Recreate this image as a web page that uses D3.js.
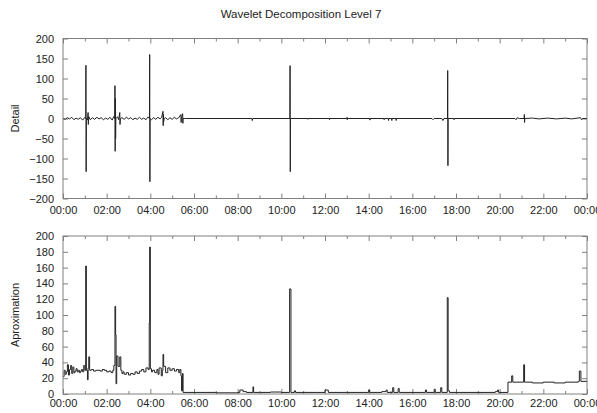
<!DOCTYPE html>
<html>
<head>
<meta charset="utf-8">
<script src="https://cdn.jsdelivr.net/npm/d3@7"></script>
<style>
	body { margin: 0; background: #fff; }
	text { font-family: "Liberation Sans", Arial, sans-serif; fill: #222; }
</style>
</head>
<body>
<div id="chart-area"></div>
<script>
const canvas = { width: 597, height: 413 }
const plotLeft = 63, plotRight = 587
const panels = [
	{ top: 38.5, bottom: 198.5, label: 'Detail', labelPad: 7.7 },
	{ top: 236, bottom: 394, label: 'Aproximation', labelPad: 5 }
]

// Tick labels
const hourTicks = [0, 2, 4, 6, 8, 10, 12, 14, 16, 18, 20, 22, 24]
const minorHours = [1, 3, 5, 7, 9, 11, 13, 15, 17, 19, 21, 23]
const detailTicks = [-200, -150, -100, -50, 0, 50, 100, 150, 200]
const approxTicks = [0, 20, 40, 60, 80, 100, 120, 140, 160, 180, 200]

// Detail coefficients [hour, value]
const detailSeries = [
	[0, 0], [0.1, -2], [0.2, 2], [0.3, -1], [0.4, 3], [0.5, -3], [0.6, 1], [0.7, -2], [0.8, 2], [0.9, -4], [1.0, 3],
	[1.04, 0], [1.05, 133], [1.06, -133], [1.07, 0],
	[1.12, -4], [1.15, 15], [1.16, -15], [1.18, 5], [1.25, -3], [1.35, 2], [1.45, -2], [1.55, 3], [1.65, -1], [1.75, 2],
	[1.85, -3], [1.95, 1], [2.05, -2], [2.15, 3], [2.25, -4], [2.33, 5],
	[2.37, 0], [2.38, 82], [2.39, -82], [2.40, 50], [2.41, -50], [2.42, 0],
	[2.5, 4], [2.55, -3], [2.6, 15], [2.61, -15], [2.63, 0], [2.7, 2], [2.8, -2], [2.9, 3], [3.0, -1], [3.1, 2],
	[3.2, -3], [3.3, 1], [3.4, -2], [3.5, 3], [3.6, -2], [3.7, 1], [3.8, -3], [3.9, 4],
	[3.96, 0], [3.97, 160], [3.98, -158], [3.99, 0],
	[4.05, -3], [4.15, 2], [4.25, -2], [4.35, 3], [4.45, -1], [4.52, 3],
	[4.58, 18], [4.59, -18], [4.6, 10], [4.61, -8], [4.63, 0],
	[4.7, 2], [4.8, -3], [4.9, 2], [5.0, -2], [5.1, 3], [5.2, -1], [5.3, 2],
	[5.40, 10], [5.41, -10], [5.42, 0], [5.48, 12], [5.49, -12], [5.5, 0],
	[5.6, 0], [8.65, 0], [8.67, -5], [8.69, 0],
	[10.39, 0], [10.40, 132], [10.41, -133], [10.42, 0],
	[11.2, 0], [11.21, -2], [11.22, 0], [12.2, 0], [12.21, -3], [12.22, 0],
	[13.0, 0], [13.01, 3], [13.02, -3], [13.03, 0],
	[14.05, 0], [14.06, -4], [14.07, 0], [14.7, 0], [14.71, -3], [14.72, 0],
	[14.9, 0], [14.91, -5], [14.92, 0], [15.05, 0], [15.06, -5], [15.07, 0], [15.25, 0], [15.26, -5], [15.27, 0],
	[16.9, 0], [16.95, -3], [17.0, 0], [17.35, 0], [17.4, -5], [17.45, 0],
	[17.61, 0], [17.62, 120], [17.63, -118], [17.64, 0],
	[17.9, 0], [17.91, -3], [17.92, 0],
	[20.7, 0], [20.75, -3], [20.8, 2], [20.9, 0],
	[21.12, 0], [21.13, 10], [21.14, -10], [21.15, 0],
	[21.5, 1], [21.8, -1], [22.2, 1], [22.6, -1], [23.0, 1], [23.3, -1], [23.7, 2], [23.75, -3], [23.8, 0], [24, 0]
]

// Approximation coefficients [hour, value]
const approxSeries = [
	[0, 22], [0.05, 30], [0.1, 25], [0.15, 28], [0.2, 37], [0.25, 24], [0.3, 31], [0.35, 36], [0.4, 26], [0.45, 34],
	[0.5, 27], [0.55, 29], [0.6, 32], [0.65, 28], [0.7, 30], [0.75, 27], [0.8, 29], [0.85, 31], [0.9, 28], [0.95, 36], [1.0, 30],
	[1.04, 162], [1.07, 30], [1.12, 18], [1.15, 33], [1.18, 47], [1.22, 30], [1.3, 31], [1.4, 29], [1.5, 30], [1.6, 30],
	[1.7, 29], [1.8, 31], [1.9, 30], [2.0, 28], [2.1, 29], [2.2, 27], [2.28, 30], [2.33, 36],
	[2.38, 111], [2.41, 75], [2.43, 13], [2.46, 48], [2.52, 35], [2.6, 47], [2.65, 30], [2.7, 26], [2.75, 28], [2.8, 25],
	[2.9, 27], [3.0, 24], [3.1, 26], [3.2, 25], [3.3, 28], [3.4, 26], [3.5, 29], [3.6, 31], [3.7, 28], [3.8, 33], [3.9, 31],
	[3.95, 90], [3.97, 186], [4.0, 32], [4.05, 28], [4.1, 30], [4.2, 27], [4.3, 31], [4.35, 25], [4.4, 33], [4.5, 23], [4.55, 30],
	[4.58, 50], [4.61, 35], [4.7, 27], [4.8, 33], [4.9, 30], [5.0, 32], [5.1, 29], [5.2, 31], [5.3, 27], [5.35, 31], [5.4, 23],
	[5.43, 4], [5.47, 26], [5.5, 2],
	[6.0, 2], [7.0, 1.5], [8.0, 2], [8.1, 5], [8.25, 3], [8.4, 2], [8.7, 9], [8.73, 2], [9.0, 2], [9.5, 2.5], [10.0, 2],
	[10.38, 133], [10.44, 2], [10.6, 4], [10.65, 2], [12.0, 5], [12.15, 2], [13.0, 2], [14.0, 5], [14.05, 2],
	[14.6, 3], [14.8, 5], [14.85, 2], [15.1, 8], [15.15, 2], [15.35, 7], [15.4, 2], [16.6, 5], [16.65, 2],
	[17.0, 6], [17.05, 2], [17.3, 8], [17.35, 2],
	[17.6, 122], [17.64, 4], [17.7, 2], [19.8, 3], [19.9, 5], [19.95, 2],
	[20.38, 15], [20.55, 23], [20.6, 15], [21.1, 37], [21.14, 15], [21.5, 14], [22, 15], [22.5, 14], [23, 15],
	[23.6, 16], [23.65, 29], [23.72, 16], [24, 15]
]

let svg = d3.select('#chart-area')
	.append('svg')
		.attr('width', canvas.width)
		.attr('height', canvas.height)

// Title
svg.append('text')
	.attr('x', 301)
	.attr('y', 18)
	.attr('text-anchor', 'middle')
	.attr('font-size', '11.5px')
	.text('Wavelet Decomposition Level 7')

let x = d3.scaleLinear()
	.domain([0, 24])
	.range([plotLeft, plotRight])
const hourFormat = d => String(d % 24).padStart(2, '0') + ':00'

function drawPanel(panel, domain, yTicks, series, curve) {
	let y = d3.scaleLinear()
		.domain(domain)
		.range([panel.bottom, panel.top])

	let g = svg.append('g')

	// Bottom axis with labels, ticks inside
	g.append('g')
		.attr('transform', `translate(0, ${panel.bottom})`)
		.call(d3.axisBottom(x).tickValues(hourTicks).tickFormat(hourFormat)
			.tickSizeInner(-5).tickSizeOuter(0).tickPadding(panel.labelPad))
	g.append('g')
		.attr('transform', `translate(0, ${panel.bottom})`)
		.call(d3.axisBottom(x).tickValues(minorHours).tickFormat('')
			.tickSizeInner(-3).tickSizeOuter(0))
	// Top mirror
	g.append('g')
		.attr('transform', `translate(0, ${panel.top})`)
		.call(d3.axisTop(x).tickValues(hourTicks).tickFormat('')
			.tickSizeInner(-5).tickSizeOuter(0))
	g.append('g')
		.attr('transform', `translate(0, ${panel.top})`)
		.call(d3.axisTop(x).tickValues(minorHours).tickFormat('')
			.tickSizeInner(-3).tickSizeOuter(0))
	// Left axis with labels
	g.append('g')
		.attr('transform', `translate(${plotLeft}, 0)`)
		.call(d3.axisLeft(y).tickValues(yTicks)
			.tickSizeInner(-5).tickSizeOuter(0).tickPadding(9))
	// Right mirror
	g.append('g')
		.attr('transform', `translate(${plotRight}, 0)`)
		.call(d3.axisRight(y).tickValues(yTicks).tickFormat('')
			.tickSizeInner(-5).tickSizeOuter(0))

	g.selectAll('.domain').remove()
	g.selectAll('.tick line').attr('stroke', '#808080')
	g.selectAll('.tick text')
		.attr('font-family', '"Liberation Sans", Arial, sans-serif')
		.attr('font-size', '11px')
		.attr('fill', '#222')

	// Data line
	let line = d3.line()
		.x(d => x(d[0]))
		.y(d => y(d[1]))
		.curve(curve)
	g.append('path')
		.datum(series)
		.attr('fill', 'none')
		.attr('stroke', '#222')
		.attr('stroke-width', 1)
		.attr('d', line)

	// Frame
	g.append('rect')
		.attr('x', plotLeft)
		.attr('y', panel.top)
		.attr('width', plotRight - plotLeft)
		.attr('height', panel.bottom - panel.top)
		.attr('fill', 'none')
		.attr('stroke', '#808080')

	// Y label
	g.append('text')
		.attr('transform', `translate(15, ${(panel.top + panel.bottom) / 2}) rotate(-90)`)
		.attr('text-anchor', 'middle')
		.attr('dy', '0.35em')
		.attr('font-size', '11px')
		.text(panel.label)
}

drawPanel(panels[0], [-200, 200], detailTicks, detailSeries, d3.curveLinear)
drawPanel(panels[1], [0, 200], approxTicks, approxSeries, d3.curveStepAfter)
</script>
</body>
</html>
